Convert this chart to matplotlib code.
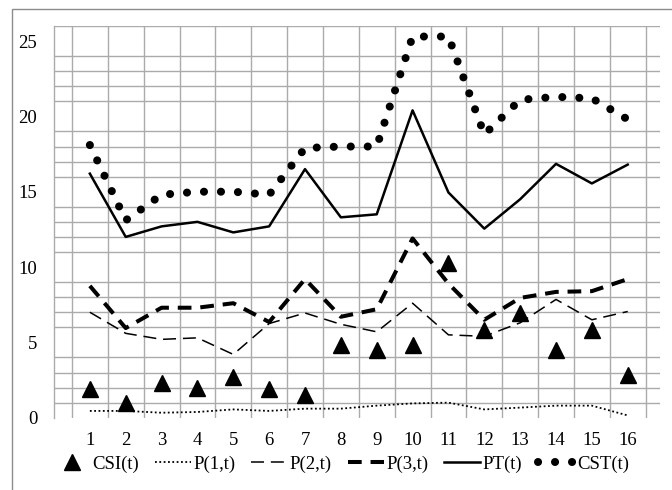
import numpy as np
import matplotlib
matplotlib.use('Agg')
import matplotlib.pyplot as plt
from matplotlib.patches import Rectangle

# values
t = list(range(1, 17))
csi = [1.9, 1.0, 2.3, 2.0, 2.7, 1.9, 1.5, 4.8, 4.5, 4.85, 10.3, 5.8, 6.95, 4.5, 5.8, 2.85]
p1 = [0.45, 0.45, 0.33, 0.38, 0.55, 0.45, 0.6, 0.6, 0.8, 0.95, 1.0, 0.55, 0.67, 0.8, 0.8, 0.15]
p2 = [7.0, 5.6, 5.2, 5.3, 4.2, 6.25, 6.95, 6.2, 5.7, 7.6, 5.5, 5.4, 6.3, 7.85, 6.5, 7.05]
p3 = [8.75, 5.95, 7.3, 7.3, 7.6, 6.35, 9.2, 6.7, 7.2, 11.9, 8.9, 6.5, 7.95, 8.35, 8.4, 9.2]
pt = [16.2, 12.0, 12.7, 13.0, 12.3, 12.7, 16.5, 13.3, 13.5, 20.4, 14.95, 12.55, 14.5, 16.85, 15.55, 16.8]
cst = [18.1, 13.1, 14.8, 15.0, 15.0, 14.8, 17.9, 18.0, 18.0, 25.3, 25.3, 18.8, 21.1, 21.3, 21.2, 19.8]

plt.rcParams['font.family'] = ['Liberation Serif', 'DejaVu Serif']
plt.rcParams['font.size'] = 13.5

fig = plt.figure(figsize=(6.72, 4.90), dpi=100)
ax = fig.add_axes([54 / 672, 1 - 417.7 / 490, 606 / 672, 391.7 / 490])

grid_col = '#ababab'
ax.plot(t, csi, linestyle='none', marker='^', color='black', markersize=11, label='CSI(t)', zorder=5)
ax.plot(t, p1, color='black', lw=1.3, dashes=(1, 1.4), label='P(1,t)', zorder=4)
ax.plot(t, p2, color='black', lw=1.1, dashes=(8.5, 4.5), label='P(2,t)', zorder=4)
ax.plot(t, p3, color='black', lw=2.9, dashes=(3.4, 2.2), label='P(3,t)', zorder=4)
ax.plot(t, pt, color='black', lw=1.8, label='PT(t)', zorder=4)
ax.plot(t, cst, color='black', lw=5.8, dashes=(0.01, 2.1), dash_capstyle='round', label='CST(t)', zorder=4)

ax.set_xlim(0, 16.9)
ax.set_ylim(0, 26)
ax.set_xticks(t)
ax.set_xticks(np.arange(0.5, 17, 1), minor=True)
ax.set_yticks(range(0, 26, 5))
ax.set_yticks(range(0, 27), minor=True)
ax.grid(which='minor', color=grid_col, lw=1.0)
ax.set_axisbelow(True)
ax.tick_params(which='both', length=0)
ax.tick_params(axis='x', pad=10)
ax.tick_params(axis='y', pad=12)
for s in ['top', 'right', 'bottom']:
    ax.spines[s].set_visible(False)
ax.spines['left'].set_color(grid_col)
ax.spines['left'].set_linewidth(1.0)

fig.legend(loc='center', bbox_to_anchor=(0.508, 0.053), ncol=6, frameon=False,
           handlelength=1.9, handletextpad=0.15, columnspacing=0.85, borderpad=0,
           numpoints=1)

fig.patches.append(Rectangle((12 / 672, -0.1), 1.2, 1 - 9 / 490 + 0.1, transform=fig.transFigure,
                             fill=False, edgecolor='#8c8c8c', lw=1.0))

fig.savefig('out.png', dpi=100)
